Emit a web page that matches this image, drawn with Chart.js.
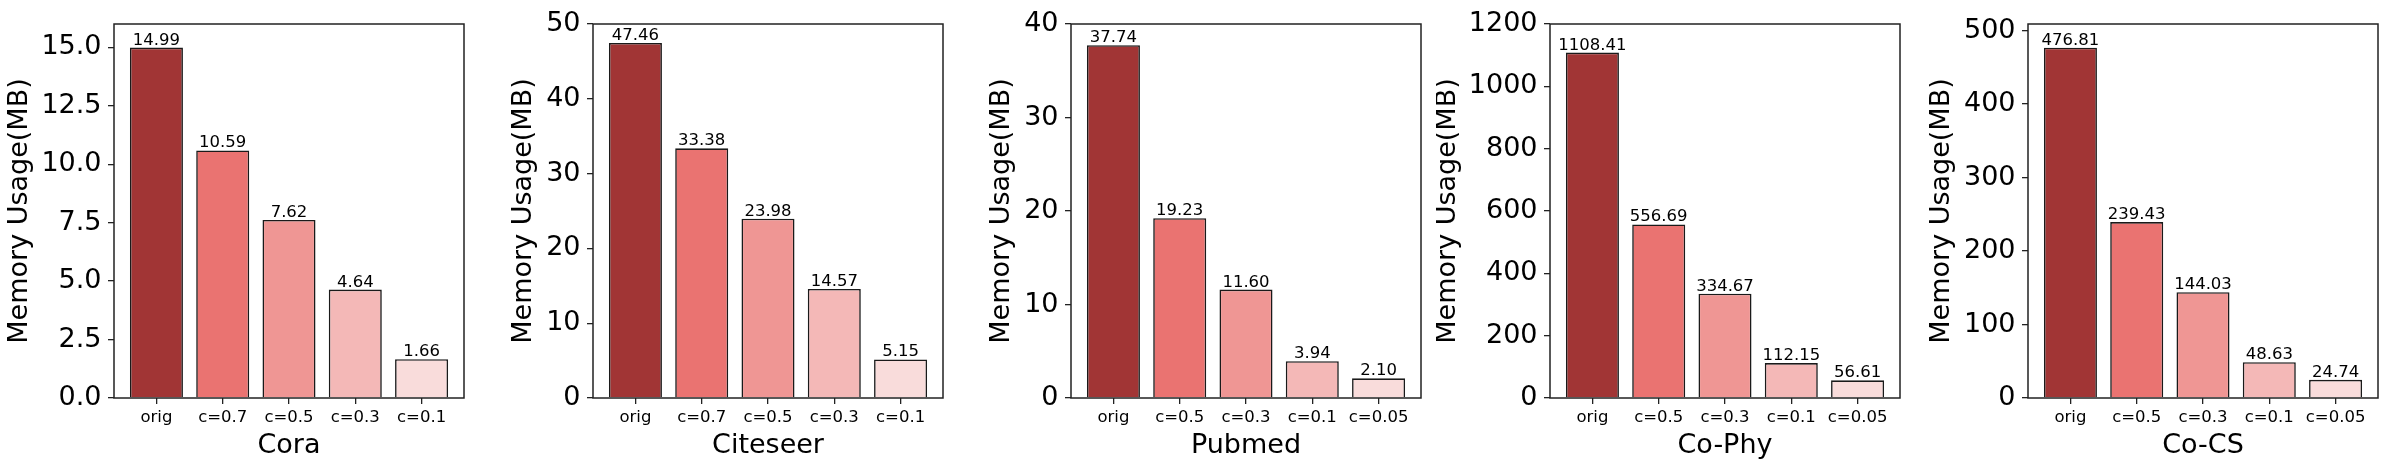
<!DOCTYPE html>
<html><head><meta charset="utf-8">
<script src="https://cdn.jsdelivr.net/npm/chart.js@4.4.1/dist/chart.umd.min.js"></script>
<style>
html,body{margin:0;padding:0;background:#fff;width:2394px;height:472px;overflow:hidden}
.cell{position:absolute;top:0;width:478px;height:472px}
</style></head><body>
<script>
// ---- data ----
const panelNames = ['Cora', 'Citeseer', 'Pubmed', 'Co-Phy', 'Co-CS'];
const labelsSmall = ['orig', 'c=0.7', 'c=0.5', 'c=0.3', 'c=0.1'];
const labelsLarge = ['orig', 'c=0.5', 'c=0.3', 'c=0.1', 'c=0.05'];
const coraValues = [14.99, 10.59, 7.62, 4.64, 1.66];
const citeseerValues = [47.46, 33.38, 23.98, 14.57, 5.15];
const pubmedValues = [37.74, 19.23, 11.60, 3.94, 2.10];
const coPhyValues = [1108.41, 556.69, 334.67, 112.15, 56.61];
const coCSValues = [476.81, 239.43, 144.03, 48.63, 24.74];
const yMaxValues = [16, 50, 40, 1200, 509];
const yStepValues = [2.5, 10, 10, 200, 100];
const yDecimals = [1, 0, 0, 0, 0];
const barColors = ['#a13535', '#ea7371', '#ef9694', '#f4b8b7', '#f9dcdb'];

// ---- layout ----
const plotLefts = [114, 592.5, 1071, 1549.5, 2028];
const yTitleCenters = [22.5, 526, 1004.4, 1450, 1944];
const Y_AXIS_W = 114, CELL_W = 478, X_AXIS_H = 74;
const FONT = "'DejaVu Sans', sans-serif";

const panels = [
  {name: panelNames[0], labels: labelsSmall, values: coraValues},
  {name: panelNames[1], labels: labelsSmall, values: citeseerValues},
  {name: panelNames[2], labels: labelsLarge, values: pubmedValues},
  {name: panelNames[3], labels: labelsLarge, values: coPhyValues},
  {name: panelNames[4], labels: labelsLarge, values: coCSValues},
];

const frameAndValues = {
  id: 'frameAndValues',
  afterDatasetsDraw(chart) {
    const {ctx, chartArea: a} = chart;
    ctx.save();
    ctx.strokeStyle = '#222';
    ctx.lineWidth = 1.5;
    ctx.strokeRect(a.left, a.top, a.right - a.left, a.bottom - a.top);
    const meta = chart.getDatasetMeta(0);
    ctx.fillStyle = '#000';
    ctx.font = '16.5px ' + FONT;
    ctx.textAlign = 'center';
    ctx.textBaseline = 'alphabetic';
    meta.data.forEach((bar, i) => {
      const v = chart.data.datasets[0].data[i].y;
      ctx.fillText(v.toFixed(2), bar.x, bar.y - 3);
    });
    ctx.restore();
  }
};

panels.forEach((p, k) => {
  const div = document.createElement('div');
  div.className = 'cell';
  const left = plotLefts[k] - Y_AXIS_W;
  div.style.left = left + 'px';
  const cv = document.createElement('canvas');
  cv.width = CELL_W; cv.height = 472;
  cv.style.width = CELL_W + 'px'; cv.style.height = '472px';
  div.appendChild(cv);
  document.body.appendChild(div);
  const fontLH = 1.2, titleSize = 27;
  const yTitlePad = yTitleCenters[k] - left - titleSize * fontLH / 2 - 2.5;

  new Chart(cv, {
    type: 'bar',
    data: {
      datasets: [{
        data: p.values.map((v, i) => ({x: i, y: v})),
        backgroundColor: barColors,
        borderColor: '#1a1a1a',
        borderWidth: 1.6,
        barPercentage: 0.8,
        categoryPercentage: 1.0
      }]
    },
    options: {
      responsive: false,
      animation: false,
      events: [],
      layout: {padding: {top: 24, right: 14, bottom: 0, left: 0}},
      plugins: {legend: {display: false}, tooltip: {enabled: false}},
      scales: {
        x: {
          type: 'linear',
          offset: false,
          min: -0.64, max: 4.64,
          border: {display: false},
          grid: {offset: false, drawOnChartArea: false, drawTicks: true, tickLength: 6, color: '#222', lineWidth: 1.3},
          ticks: {
            stepSize: 1, includeBounds: false, autoSkip: false, maxRotation: 0, padding: 4,
            color: '#000', font: {family: FONT, size: 16.5},
            callback: (v) => Number.isInteger(v) ? p.labels[v] : ''
          },
          afterBuildTicks: (s) => { s.ticks = p.labels.map((_, i) => ({value: i})); },
          title: {display: true, text: p.name, color: '#000', font: {family: FONT, size: 27, lineHeight: fontLH}, padding: {top: 0, bottom: 10}},
          afterFit: (s) => { s.height = X_AXIS_H; }
        },
        y: {
          type: 'linear',
          min: 0, max: yMaxValues[k],
          border: {display: false},
          grid: {drawOnChartArea: false, drawTicks: true, tickLength: 6, color: '#222', lineWidth: 1.3},
          ticks: {
            stepSize: yStepValues[k], includeBounds: false, padding: 6.5,
            color: '#000', font: {family: FONT, size: 27},
            callback: (v) => v.toFixed(yDecimals[k])
          },
          afterBuildTicks: (s) => {
            const t = [];
            for (let j = 0; j * yStepValues[k] <= yMaxValues[k] + 1e-9; j++) t.push({value: j * yStepValues[k]});
            s.ticks = t;
          },
          title: {display: true, text: 'Memory Usage(MB)', color: '#000', font: {family: FONT, size: titleSize, lineHeight: fontLH}, padding: {top: yTitlePad, bottom: 0}},
          afterFit: (s) => { s.width = Y_AXIS_W; }
        }
      }
    },
    plugins: [frameAndValues]
  });
});
</script>
</body></html>
